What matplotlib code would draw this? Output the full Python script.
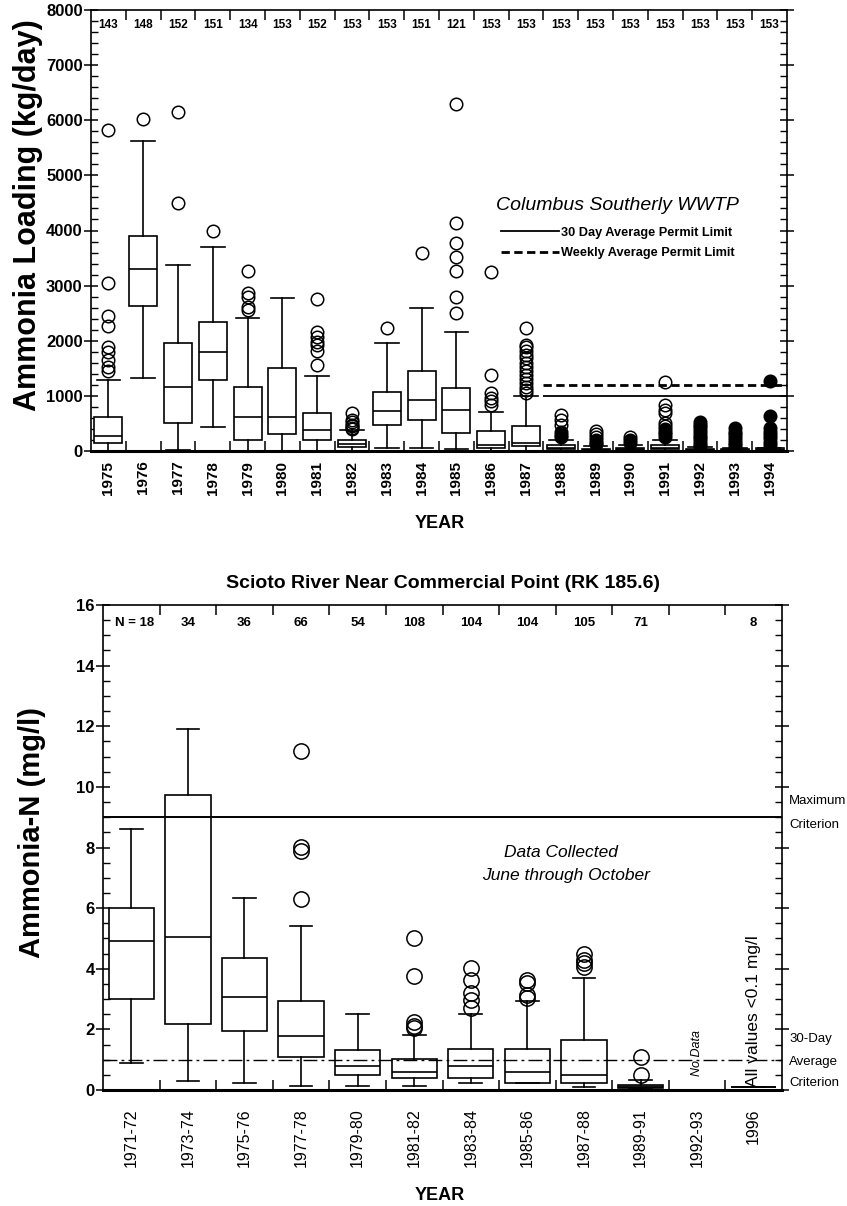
import numpy as np
import matplotlib.pyplot as plt
from matplotlib.lines import Line2D
from matplotlib.ticker import MultipleLocator, FixedLocator

plt.rcParams['font.family'] = ['Liberation Sans', 'DejaVu Sans']

# --- Columbus Southerly WWTP daily ammonia loading (kg/day) ---
years = [str(y) for y in range(1975, 1995)]
n_days = [143, 148, 152, 151, 134, 153, 152, 153, 153, 151,
          121, 153, 153, 153, 153, 153, 153, 153, 153, 153]
load_q1 = [139, 2630, 510, 1290, 200, 310, 200, 80, 470, 570,
           325, 48, 90, 30, 10, 10, 30, 10, 0, 10]
load_med = [271, 3310, 1170, 1790, 620, 610, 380, 120, 730, 930,
            747, 108, 150, 60, 20, 30, 60, 20, 10, 20]
load_q3 = [609, 3900, 1960, 2340, 1170, 1500, 690, 200, 1070, 1450,
           1134, 362, 458, 100, 40, 60, 110, 40, 30, 50]
load_lo = [0, 1320, 20, 430, 0, 0, 0, 0, 60, 60,
           30, 0, 0, 0, 0, 0, 0, 0, 0, 0]
load_hi = [1280, 5620, 3380, 3700, 2420, 2770, 1360, 380, 1960, 2600,
           2157, 711, 1000, 199, 90, 100, 200, 70, 50, 60]
load_out = [
    [5830, 3040, 2450, 2270, 1880, 1800, 1650, 1520, 1450],
    [6020],
    [6150, 4500],
    [3990],
    [3260, 2870, 2800, 2620, 2560],
    [],
    [2750, 2160, 2060, 1980, 1920, 1820, 1560],
    [690, 560, 520, 480, 450, 420, 400],
    [2230],
    [3590],
    [6300, 4140, 3780, 3520, 3260, 2800, 2500],
    [3240, 1370, 1060, 960, 900, 830],
    [2230, 1930, 1880, 1820, 1750, 1680, 1600, 1520, 1450, 1380,
     1300, 1230, 1170, 1100, 1050],
    [651, 561, 470],
    [360, 300, 250],
    [259],
    [1250, 832, 741, 681, 506, 460],
    [],
    [],
    [],
]
load_out_filled = [
    [], [], [], [], [], [], [], [], [], [], [], [], [],
    [349, 289, 250],
    [200, 150, 120],
    [200, 150],
    [400, 350, 300, 250],
    [530, 480, 430, 380, 330, 280, 230, 180, 130, 90],
    [416, 350, 300, 250, 200, 150, 100, 60, 20],
    [1270, 640, 416, 350, 289, 230, 168, 100],
]
permit_30day = 1000
permit_weekly = 1200
permit_start = 14  # limits apply from 1988 on

# --- Scioto River near Commercial Point, ammonia-N (mg/l) ---
periods = ['1971-72', '1973-74', '1975-76', '1977-78', '1979-80', '1981-82',
           '1983-84', '1985-86', '1987-88', '1989-91', '1992-93', '1996']
n_samples = ['N = 18', '34', '36', '66', '54', '108', '104', '104', '105', '71', '', '8']
nh3_q1 = [3.01, 2.18, 1.96, 1.08, 0.50, 0.41, 0.41, 0.22, 0.22, 0.05, None, 0.1]
nh3_med = [4.91, 5.06, 3.07, 1.78, 0.79, 0.61, 0.80, 0.61, 0.50, 0.10, None, 0.1]
nh3_q3 = [6.02, 9.72, 4.35, 2.95, 1.33, 1.01, 1.34, 1.34, 1.64, 0.17, None, 0.1]
nh3_lo = [0.90, 0.31, 0.24, 0.13, 0.14, 0.14, 0.22, 0.22, 0.11, 0.02, None, 0.1]
nh3_hi = [8.61, 11.9, 6.33, 5.41, 2.52, 1.83, 2.52, 2.94, 3.71, 0.33, None, 0.1]
nh3_out = [[], [], [], [11.2, 8.03, 7.9, 6.29], [], [5.01, 3.77, 2.25, 2.12, 2.04],
           [4.04, 3.63, 3.19, 2.97, 2.70], [3.63, 3.52, 3.14, 3.03],
           [4.50, 4.30, 4.18, 4.07], [1.10, 0.48], [], []]
max_criterion = 9.0
avg_criterion = 1.0

W, H = 847, 1206
fig = plt.figure(figsize=(W / 100, H / 100), dpi=100)


def px(x, y):
    return x / W, 1 - y / H


def style_box_axes(ax):
    for side in ['left', 'right', 'top']:
        ax.spines[side].set_linewidth(1.2)
    ax.spines['bottom'].set_linewidth(2.2)
    ax.tick_params(axis='x', which='minor', direction='in', length=7,
                   width=1.1, top=True, bottom=True)
    ax.tick_params(axis='y', which='major', direction='inout', length=10,
                   width=1.1, left=True, right=True, pad=1, labelsize=12)
    ax.tick_params(axis='y', which='minor', direction='in', length=5,
                   width=1.0, left=True, right=True)
    for lab in ax.get_yticklabels():
        lab.set_fontweight('bold')


def make_stats(q1, med, q3, lo, hi, out):
    stats, pos = [], []
    for i in range(len(q1)):
        if q1[i] is None:
            continue
        stats.append(dict(q1=q1[i], med=med[i], q3=q3[i],
                          whislo=lo[i], whishi=hi[i], fliers=out[i]))
        pos.append(i + 1)
    return stats, pos


line_kw = dict(color='black', linewidth=1.2)

# ---------------- top panel ----------------
ax1 = fig.add_axes([91 / W, 1 - 451 / H, (787 - 91) / W, (451 - 10) / H])
stats, pos = make_stats(load_q1, load_med, load_q3, load_lo, load_hi, load_out)
ax1.bxp(stats, positions=pos, widths=0.8, capwidths=0.68, patch_artist=True,
        boxprops=dict(facecolor='white', edgecolor='black', linewidth=1.2),
        medianprops=line_kw, whiskerprops=line_kw, capprops=line_kw,
        flierprops=dict(marker='o', markersize=9, markerfacecolor='none',
                        markeredgecolor='black', markeredgewidth=1.1))
for i, vals in enumerate(load_out_filled):
    if vals:
        ax1.plot([i + 1] * len(vals), vals, 'o', color='black', markersize=9,
                 markeredgewidth=1.1, linestyle='none')

ax1.hlines(permit_30day, permit_start - 0.5, len(years) + 0.5, color='black', linewidth=1.3)
ax1.hlines(permit_weekly, permit_start - 0.5, len(years) + 0.5, color='black',
           linewidth=2.0, linestyles=(0, (3, 1.6)))

ax1.set_xlim(0.5, len(years) + 0.5)
ax1.set_ylim(0, 8000)
ax1.set_xticks(range(1, len(years) + 1))
ax1.set_xticklabels(years, rotation=90, fontweight='bold', fontsize=11)
ax1.xaxis.set_minor_locator(FixedLocator(np.arange(1.5, len(years), 1)))
ax1.yaxis.set_major_locator(MultipleLocator(1000))
ax1.yaxis.set_minor_locator(MultipleLocator(200))
style_box_axes(ax1)
ax1.tick_params(axis='x', which='major', length=0, pad=7)

for i, n in enumerate(n_days):
    ax1.text(i + 1, 0.967, str(n), transform=ax1.get_xaxis_transform(),
             ha='center', va='center', fontsize=8.5, fontweight='bold')

handles = [Line2D([], [], color='black', linewidth=1.3),
           Line2D([], [], color='black', linewidth=2.0, linestyle=(0, (3, 1.6)))]
leg = ax1.legend(handles, ['30 Day Average Permit Limit', 'Weekly Average Permit Limit'],
                 title='Columbus Southerly WWTP', loc='upper center',
                 bbox_to_anchor=(0.757, 0.59), frameon=False, borderpad=0,
                 handlelength=4.5, handletextpad=0.15, labelspacing=0.65,
                 prop=dict(size=9.2, weight='bold'),
                 title_fontproperties=dict(size=14, style='italic'))
leg._legend_box.sep = 9

fig.text(*px(28, 215), 'Ammonia Loading (kg/day)', rotation=90, ha='center',
         va='center', fontsize=22, fontweight='bold')
fig.text(*px(440, 523), 'YEAR', ha='center', va='center', fontsize=13, fontweight='bold')

# ---------------- bottom panel ----------------
ax2 = fig.add_axes([103 / W, 1 - 1090 / H, (782 - 103) / W, (1090 - 605) / H])
stats, pos = make_stats(nh3_q1, nh3_med, nh3_q3, nh3_lo, nh3_hi, nh3_out)
bp = ax2.bxp(stats, positions=pos, widths=0.8, capwidths=0.4, patch_artist=True,
             boxprops=dict(facecolor='white', edgecolor='black', linewidth=1.2),
             medianprops=line_kw, whiskerprops=line_kw, capprops=line_kw,
             flierprops=dict(marker='o', markersize=11, markerfacecolor='none',
                             markeredgecolor='black', markeredgewidth=1.1))
bp['boxes'][pos.index(10)].set_facecolor('#777777')

ax2.axhline(max_criterion, color='black', linewidth=1.4)
ax2.axhline(avg_criterion, color='black', linewidth=1.0, linestyle=(0, (10, 3, 2, 3)))

ax2.set_xlim(0.5, len(periods) + 0.5)
ax2.set_ylim(0, 16)
ax2.set_xticks(range(1, len(periods) + 1))
ax2.set_xticklabels(periods, rotation=90, fontsize=11.5)
ax2.xaxis.set_minor_locator(FixedLocator(np.arange(1.5, len(periods), 1)))
ax2.yaxis.set_major_locator(MultipleLocator(2))
ax2.yaxis.set_minor_locator(MultipleLocator(0.5))
style_box_axes(ax2)
ax2.tick_params(axis='x', which='major', length=0, pad=13)

for i, n in enumerate(n_samples):
    ax2.text(i + 1 + (0.05 if i == 0 else 0), 0.963, n, transform=ax2.get_xaxis_transform(),
             ha='center', va='center', fontsize=9.5, fontweight='bold')

ax2.text(0.675, 0.49, 'Data Collected', transform=ax2.transAxes, ha='center',
         va='center', fontsize=12.5, style='italic')
ax2.text(0.682, 0.443, 'June through October', transform=ax2.transAxes, ha='center',
         va='center', fontsize=12.5, style='italic')
ax2.text(11, 1.22, 'No Data', rotation=90, ha='center', va='center',
         fontsize=9, style='italic')
ax2.text(12, 0.1, 'All values <0.1 mg/l', rotation=90, ha='center', va='bottom',
         fontsize=12.5)

for txt, y in [('Maximum', 801), ('Criterion', 825), ('30-Day', 1039),
               ('Average', 1062), ('Criterion', 1083)]:
    fig.text(*px(789, y), txt, ha='left', va='center', fontsize=9.5)

fig.text(*px(443, 583), 'Scioto River Near Commercial Point (RK 185.6)',
         ha='center', va='center', fontsize=14, fontweight='bold')
fig.text(*px(32, 832), 'Ammonia-N (mg/l)', rotation=90, ha='center',
         va='center', fontsize=21, fontweight='bold')
fig.text(*px(440, 1195), 'YEAR', ha='center', va='center', fontsize=13, fontweight='bold')

fig.savefig('out.png', dpi=100)
